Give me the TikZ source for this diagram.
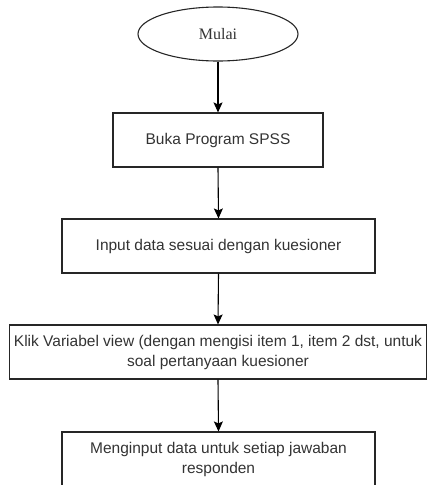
\documentclass[tikz,border=0pt]{standalone}
\usepackage{fontspec}
\setmainfont{Liberation Serif}
\setsansfont{Liberation Sans}
\usetikzlibrary{arrows.meta,shapes.geometric}
\begin{document}
\begin{tikzpicture}[x=1pt,y=-1pt,
  every node/.style={line width=1.1pt,draw=black!85,text=black!80,inner sep=0pt},
  procbox/.style={rectangle,minimum height=54pt,align=center,
    font=\sffamily\fontsize{15.5}{20}\selectfont},
  startnode/.style={ellipse,minimum width=160pt,minimum height=54pt,
    font=\rmfamily\fontsize{16}{19}\selectfont},
  flow/.style={line width=1.1pt,draw=black,-{Stealth[length=10pt,width=9pt,inset=2pt]}}]
\useasboundingbox (0,0) rectangle (427,485);
\node[startnode] (mulai) at (218,34) {Mulai};
\node[procbox,minimum width=210pt] (buka) at (218,140) {Buka Program SPSS};
\node[procbox,minimum width=313pt] (input) at (218.5,246) {Input data sesuai dengan kuesioner};
\node[procbox,minimum width=417pt] (klik) at (218,352) {Klik Variabel view (dengan mengisi item 1, item 2 dst, untuk\\soal pertanyaan kuesioner};
\node[procbox,minimum width=313pt] (jawab) at (218.5,459) {Menginput data untuk setiap jawaban\\responden};
\draw[flow] (mulai.south) -- (buka.north);
\draw[flow] (buka.south) -- (input.north);
\draw[flow] (input.south) -- (klik.north);
\draw[flow] (klik.south) -- (jawab.north);
\end{tikzpicture}
\end{document}
